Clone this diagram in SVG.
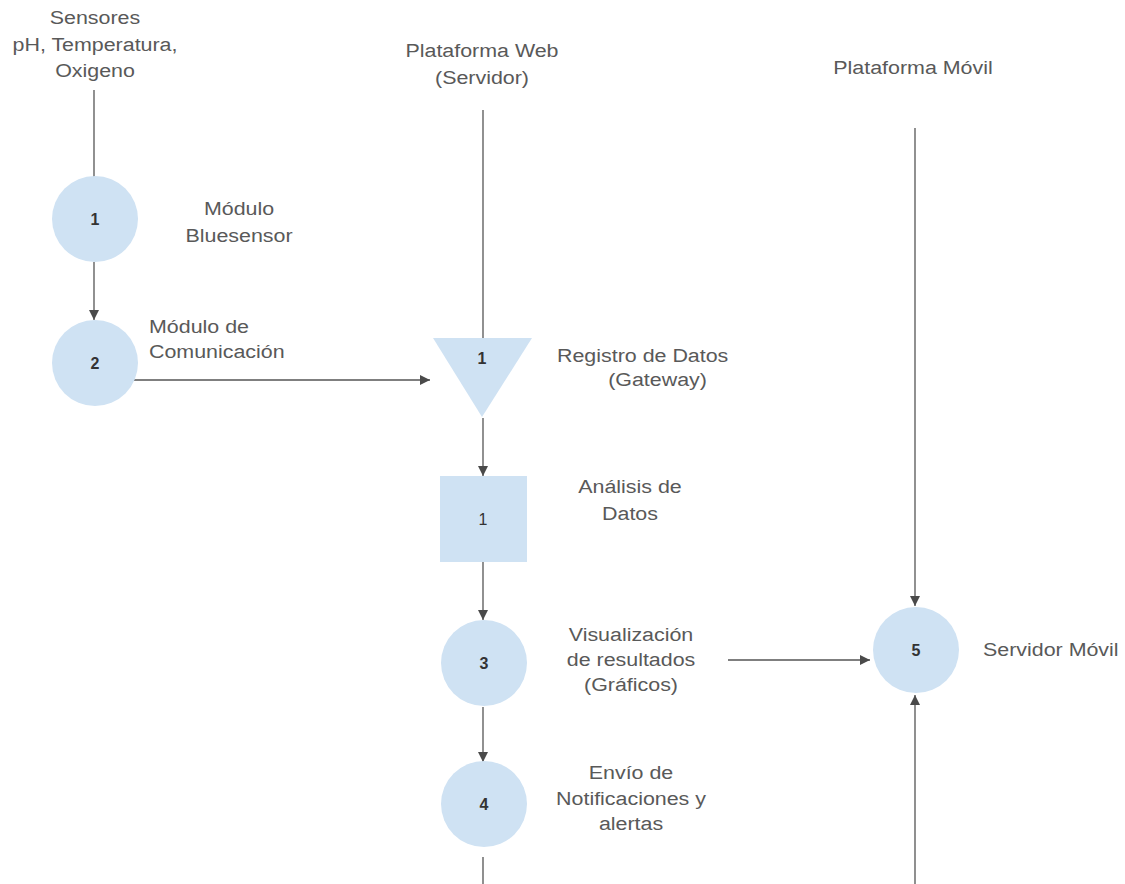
<svg xmlns="http://www.w3.org/2000/svg" width="1125" height="884" viewBox="0 0 1125 884">
<defs>
<marker id="ah" viewBox="0 0 10 10" refX="10" refY="5" markerWidth="10" markerHeight="11" markerUnits="userSpaceOnUse" orient="auto">
<path d="M0,0 L10,5 L0,10 z" fill="#4a4a4a"/>
</marker>
<style>
.lbl{font-family:"Liberation Sans",Arial,sans-serif;font-size:18px;fill:#595959}
.num{font-family:"Liberation Sans",Arial,sans-serif;font-size:16px;font-weight:bold;fill:#333;text-anchor:middle}
.shape{fill:#cfe2f3;stroke:none}
.c{fill:none;stroke:#555;stroke-width:1.3}
.a{marker-end:url(#ah)}
.m{text-anchor:middle}
</style>
</defs>
<rect width="1125" height="884" fill="#fff"/>
<g id="connectors">
<line class="c" x1="94" y1="90" x2="94" y2="177"/>
<line class="c a" x1="94" y1="262" x2="94" y2="320"/>
<line class="c a" x1="134" y1="380" x2="430" y2="380"/>
<line class="c" x1="483" y1="110" x2="483" y2="338"/>
<line class="c a" x1="483" y1="418" x2="483" y2="476"/>
<line class="c a" x1="483" y1="562" x2="483" y2="620"/>
<line class="c a" x1="483" y1="707" x2="483" y2="762"/>
<line class="c a" x1="915" y1="128" x2="915" y2="606"/>
<line class="c a" x1="728" y1="660" x2="870" y2="660"/>
<path class="c a" d="M483,857 L483,900 L915,900 L915,695"/>
</g>
<g id="title-sensores" transform="translate(95,0) scale(1.19,1)">
<text class="lbl m" x="0" y="24">Sensores</text>
<text class="lbl m" x="0" y="51">pH, Temperatura,</text>
<text class="lbl m" x="0" y="77">Oxigeno</text>
</g>
<g id="title-web" transform="translate(482,0) scale(1.19,1)">
<text class="lbl m" x="0" y="57">Plataforma Web</text>
<text class="lbl m" x="0" y="84">(Servidor)</text>
</g>
<g id="title-movil" transform="translate(913,0) scale(1.19,1)">
<text class="lbl m" x="0" y="74">Plataforma Móvil</text>
</g>
<g id="node-bluesensor">
<circle class="shape" cx="95" cy="219" r="43"/>
<text class="num" x="95" y="225">1</text>
<g transform="translate(239,0) scale(1.19,1)">
<text class="lbl m" x="0" y="215">Módulo</text>
<text class="lbl m" x="0" y="242">Bluesensor</text>
</g>
</g>
<g id="node-comunicacion">
<circle class="shape" cx="95" cy="363" r="43"/>
<text class="num" x="95" y="369">2</text>
<g transform="translate(149,0) scale(1.19,1)">
<text class="lbl" x="0" y="333">Módulo de</text>
<text class="lbl" x="0" y="358">Comunicación</text>
</g>
</g>
<g id="node-registro">
<polygon class="shape" points="433,338 532,338 482,417"/>
<text class="num" x="482" y="364">1</text>
<g transform="translate(557,0) scale(1.19,1)">
<text class="lbl" x="0" y="362">Registro de Datos</text>
<text class="lbl" x="43" y="386">(Gateway)</text>
</g>
</g>
<g id="node-analisis">
<rect class="shape" x="440" y="476" width="87" height="86"/>
<text class="num" x="483" y="525" style="font-weight:normal">1</text>
<g transform="translate(630,0) scale(1.19,1)">
<text class="lbl m" x="0" y="493">Análisis de</text>
<text class="lbl m" x="0" y="520">Datos</text>
</g>
</g>
<g id="node-visualizacion">
<circle class="shape" cx="484" cy="663" r="43"/>
<text class="num" x="484" y="669">3</text>
<g transform="translate(631,0) scale(1.19,1)">
<text class="lbl m" x="0" y="641">Visualización</text>
<text class="lbl m" x="0" y="666">de resultados</text>
<text class="lbl m" x="0" y="691">(Gráficos)</text>
</g>
</g>
<g id="node-envio">
<circle class="shape" cx="484" cy="804" r="43"/>
<text class="num" x="484" y="810">4</text>
<g transform="translate(631,0) scale(1.19,1)">
<text class="lbl m" x="0" y="779">Envío de</text>
<text class="lbl m" x="0" y="805">Notificaciones y</text>
<text class="lbl m" x="0" y="830">alertas</text>
</g>
</g>
<g id="node-servidor-movil">
<circle class="shape" cx="916" cy="650" r="43"/>
<text class="num" x="916" y="656">5</text>
<g transform="translate(983,0) scale(1.19,1)">
<text class="lbl" x="0" y="656">Servidor Móvil</text>
</g>
</g>
</svg>
